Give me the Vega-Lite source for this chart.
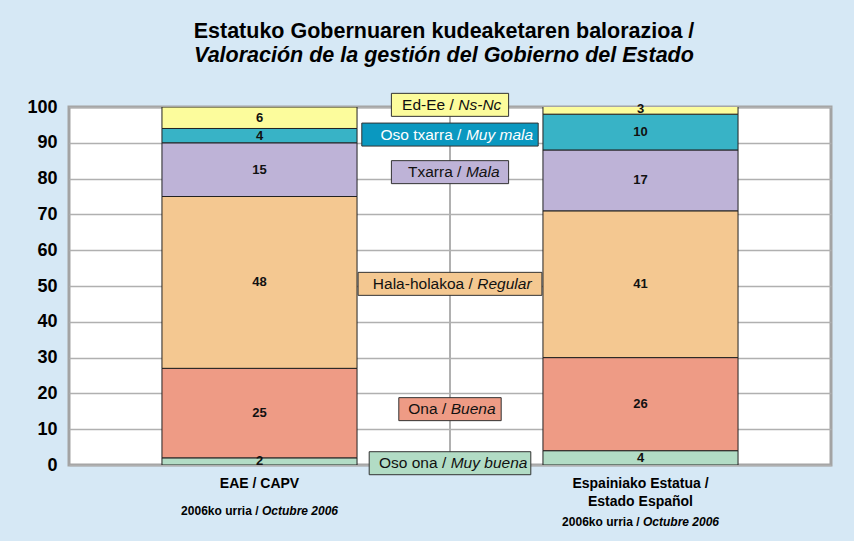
{
  "$schema": "https://vega.github.io/schema/vega-lite/v6.json",
  "width": 762,
  "height": 358,
  "autosize": "none",
  "padding": {"left": 69, "top": 107, "right": 23, "bottom": 76},
  "background": "#d6e8f5",
  "config": {
    "font": "Liberation Sans",
    "view": {"fill": "white", "stroke": "#a3a3a3", "strokeWidth": 3},
    "axisY": {
      "tickCount": 10,
      "labelOverlap": false,
      "domain": false,
      "ticks": false,
      "grid": true,
      "gridColor": "#b0b0b0",
      "gridWidth": 1.5,
      "labelFont": "Liberation Sans",
      "labelFontSize": 18,
      "labelFontWeight": "bold",
      "labelColor": "#000",
      "labelPadding": 12,
      "title": null
    }
  },
  "title": {
    "text": "Estatuko Gobernuaren kudeaketaren balorazioa /",
    "subtitle": "Valoración de la gestión del Gobierno del Estado",
    "font": "Liberation Sans",
    "fontSize": 21.5,
    "fontWeight": "bold",
    "color": "#000",
    "subtitleFont": "Liberation Sans",
    "subtitleFontSize": 21.5,
    "subtitleFontStyle": "italic",
    "subtitleFontWeight": "bold",
    "subtitleColor": "#000",
    "subtitlePadding": 3,
    "anchor": "middle",
    "offset": 26,
    "dx": -6
  },
  "datasets": {
    "bars": [
      {"region": "EAE / CAPV", "cat": "Oso ona", "rank": 1, "value": 2},
      {"region": "EAE / CAPV", "cat": "Ona", "rank": 2, "value": 25},
      {"region": "EAE / CAPV", "cat": "Hala-holakoa", "rank": 3, "value": 48},
      {"region": "EAE / CAPV", "cat": "Txarra", "rank": 4, "value": 15},
      {"region": "EAE / CAPV", "cat": "Oso txarra", "rank": 5, "value": 4},
      {"region": "EAE / CAPV", "cat": "Ed-Ee", "rank": 6, "value": 6},
      {"region": "Espainiako Estatua / Estado Español", "cat": "Oso ona", "rank": 1, "value": 4},
      {"region": "Espainiako Estatua / Estado Español", "cat": "Ona", "rank": 2, "value": 26},
      {"region": "Espainiako Estatua / Estado Español", "cat": "Hala-holakoa", "rank": 3, "value": 41},
      {"region": "Espainiako Estatua / Estado Español", "cat": "Txarra", "rank": 4, "value": 17},
      {"region": "Espainiako Estatua / Estado Español", "cat": "Oso txarra", "rank": 5, "value": 10},
      {"region": "Espainiako Estatua / Estado Español", "cat": "Ed-Ee", "rank": 6, "value": 3}
    ],
    "dates": [
      {"region": "EAE / CAPV", "a": "2006ko urria /", "b": "Octubre 2006"},
      {"region": "Espainiako Estatua / Estado Español", "a": "2006ko urria /", "b": "Octubre 2006"}
    ],
    "labels": [
      {"cat": "Ed-Ee", "a": "Ed-Ee /", "b": "Ns-Nc", "pos": 100.6},
      {"cat": "Oso txarra", "a": "Oso txarra /", "b": "Muy mala", "pos": 92.3},
      {"cat": "Txarra", "a": "Txarra /", "b": "Mala", "pos": 81.8},
      {"cat": "Hala-holakoa", "a": "Hala-holakoa /", "b": "Regular", "pos": 50.6},
      {"cat": "Ona", "a": "Ona /", "b": "Buena", "pos": 15.6},
      {"cat": "Oso ona", "a": "Oso ona /", "b": "Muy buena", "pos": 0.5}
    ]
  },
  "resolve": {"scale": {"x": "independent"}},
  "layer": [
    {
      "encoding": {
        "x": {
          "field": "region",
          "type": "nominal",
          "sort": null,
          "scale": {"type": "band", "paddingInner": 0.488, "paddingOuter": 0.244},
          "axis": {
            "title": null,
            "domain": false,
            "ticks": false,
            "grid": false,
            "labelAngle": 0,
            "labelFont": "Liberation Sans",
            "labelFontSize": 14,
            "labelFontWeight": "bold",
            "labelColor": "#000",
            "labelPadding": 18,
            "labelBaseline": "middle",
            "labelLineHeight": 18,
            "labelExpr": "datum.label == 'Espainiako Estatua / Estado Español' ? ['Espainiako Estatua /', 'Estado Español'] : datum.label"
          }
        }
      },
      "layer": [
        {
          "data": {"name": "bars"},
          "transform": [
            {"stack": "value", "groupby": ["region"], "sort": [{"field": "rank", "order": "ascending"}], "as": ["v0", "v1"]}
          ],
          "layer": [
            {
              "mark": {"type": "bar", "stroke": "#222", "strokeWidth": 1, "clip": true},
              "encoding": {
                "y": {
                  "field": "v0",
                  "type": "quantitative",
                  "scale": {"domain": [0, 100], "nice": false}
                },
                "y2": {"field": "v1"},
                "color": {
                  "field": "cat",
                  "type": "nominal",
                  "scale": {
                    "domain": ["Oso ona", "Ona", "Hala-holakoa", "Txarra", "Oso txarra", "Ed-Ee"],
                    "range": ["#b2dcc5", "#ee9b85", "#f4c891", "#beb3d7", "#38b3c6", "#fcfc9c"]
                  },
                  "legend": null
                }
              }
            },
            {
              "mark": {"type": "text", "fontSize": 13, "fontWeight": "bold", "color": "#111", "baseline": "middle",
                "dy": {"expr": "-datum.value * 1.79"}},
              "encoding": {
                "y": {"field": "v0", "type": "quantitative"},
                "text": {"field": "value", "type": "quantitative"}
              }
            }
          ]
        },
        {
          "data": {"name": "dates"},
          "layer": [
            {
              "mark": {"type": "text", "align": "right", "baseline": "middle", "fontSize": 12, "fontWeight": "bold", "color": "#000", "dx": -1,
                "dy": {"expr": "indexof(datum.region, 'Estado') >= 0 ? 57 : 46"}},
              "encoding": {"y": {"datum": 0}, "text": {"field": "a"}}
            },
            {
              "mark": {"type": "text", "align": "left", "baseline": "middle", "fontSize": 12, "fontWeight": "bold", "fontStyle": "italic", "color": "#000", "dx": 2.5,
                "dy": {"expr": "indexof(datum.region, 'Estado') >= 0 ? 57 : 46"}},
              "encoding": {"y": {"datum": 0}, "text": {"field": "b"}}
            }
          ]
        }
      ]
    },
    {
      "data": {"name": "labels"},
      "encoding": {
        "x": {"datum": "mid", "type": "nominal", "scale": {"type": "band", "domain": ["mid"], "paddingInner": 0, "paddingOuter": 0}, "axis": null}
      },
      "layer": [
        {
          "mark": {"type": "rule", "color": "#b0b0b0", "strokeWidth": 1.5},
          "encoding": {}
        },
        {
          "mark": {"type": "bar", "stroke": "#333", "strokeWidth": 1, "yOffset": -11.5, "y2Offset": 11.5,
            "width": {"expr": "7.4 * (length(datum.a) + 1 + length(datum.b)) + 21"}},
          "encoding": {
            "y": {"field": "pos", "type": "quantitative"},
            "y2": {"field": "pos"},
            "color": {
              "condition": {"test": "datum.cat === 'Oso txarra'", "value": "#0a98c0"},
              "field": "cat",
              "type": "nominal",
              "legend": null
            }
          }
        },
        {
          "mark": {"type": "text", "align": "right", "baseline": "middle", "fontSize": 15.5,
            "dx": {"expr": "(length(datum.a) - 1 - length(datum.b)) * 3.8"}},
          "encoding": {
            "y": {"field": "pos", "type": "quantitative"},
            "text": {"field": "a"},
            "color": {"condition": {"test": "datum.cat === 'Oso txarra'", "value": "#ffffff"}, "value": "#111"}
          }
        },
        {
          "mark": {"type": "text", "align": "left", "baseline": "middle", "fontSize": 15.5, "fontStyle": "italic",
            "dx": {"expr": "(length(datum.a) - 1 - length(datum.b)) * 3.8 + 4.5"}},
          "encoding": {
            "y": {"field": "pos", "type": "quantitative"},
            "text": {"field": "b"},
            "color": {"condition": {"test": "datum.cat === 'Oso txarra'", "value": "#ffffff"}, "value": "#111"}
          }
        }
      ]
    }
  ]
}
